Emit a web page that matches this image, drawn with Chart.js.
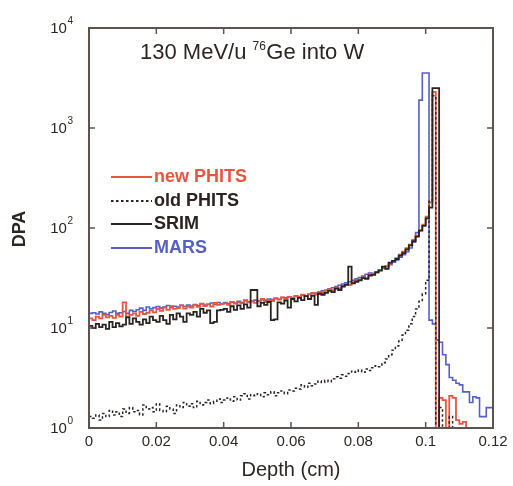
<!DOCTYPE html>
<html><head><meta charset="utf-8">
<script src="https://cdn.jsdelivr.net/npm/chart.js@4.4.1/dist/chart.umd.min.js"></script>
<style>html,body{margin:0;padding:0;background:#fff}#wrap{width:513px;height:486px}</style>
</head><body><div id="wrap"><canvas id="c" width="513" height="486"></canvas></div>
<script>
// Bin width of the depth histogram (cm); bins start at depth 0
const binWidthCm = 0.001;
const xTickLabels = ['0','0.02','0.04','0.06','0.08','0.1','0.12'];
const yTickDecades = [1, 10, 100, 1000, 10000];

const newPHITS = [
 12.5,12,13,12.5,13.5,12.8,13.2,12.6,13.5,13,
 18,13,13.5,14,13.2,14.5,13.8,14.2,15,14.3,
 15.5,14.8,16,15.2,16.5,15.5,15.8,16.8,15.6,16.4,
 16,17,16.3,17.5,16.6,17.2,16.4,17.8,17,17.4,
 17.6,17,18.2,17.5,18,17.6,19,18,18.5,17.8,
 18.5,19.5,18.2,19,18.6,19.8,19.2,20.2,19.5,20.5,
 20,21,20.4,21.5,20.8,21.8,22.5,21.6,23,22.4,
 23.5,24.5,23.8,25.5,25,26.5,27.5,27,28.5,29.5,
 30.5,32,31.5,34,35,36,38,40,41.5,44,
 47,50,54,58,63,68,76,84,95,108,
 130,180,2300,0.5,2.0,1.9,0.5,2.1,2.0,1.2,
 1.1,1.15,0.5,0.5,0.5,0.5,0.5,0.5,0.5,0.5
];
const oldPHITS = [
 1.3,1.25,1.35,1.2,1.4,1.3,1.5,1.35,1.45,1.3,
 1.55,1.4,1.6,1.45,1.5,1.35,1.7,1.55,1.6,1.45,
 1.75,1.5,1.45,1.65,1.55,1.4,1.7,1.6,1.8,1.65,
 1.75,1.6,1.85,1.7,1.8,1.9,1.75,1.85,1.95,1.8,
 1.9,2.0,1.85,2.05,1.9,2.1,2.2,1.95,2.15,2.1,
 2.2,2.05,2.25,2.15,2.3,2.1,2.25,2.35,2.2,2.4,
 2.35,2.5,2.45,2.7,2.55,2.8,2.65,2.75,2.95,2.85,
 3.0,2.9,3.1,3.25,3.15,3.4,3.3,3.5,3.7,3.6,
 3.8,3.6,3.9,3.75,4.0,4.2,4.1,4.5,4.9,5.4,
 6.0,6.6,7.4,8.5,9.5,11,13,15.5,18.5,22,
 30,190,2100,0.5,1.6,0.5,0.5,1.3,0.5,0.5,
 0.5,0.5,0.5,0.5,0.5,0.5,0.5,0.5,0.5,0.5
];
const SRIM = [
 10.5,10,11,10.2,10.8,9.8,11.5,10.2,11.2,10.4,
 10.8,12.8,11,12.5,11.5,10.8,12.2,11.2,13,12,
 11.5,13.2,12,11,13.5,12.2,14,13,11.5,14,
 13.5,14.5,13,15.5,14.2,15,11.2,11.5,15,15.2,
 15.5,14.5,16.5,15.2,16.8,15.5,17.2,16,24,24,
 16.5,17.8,17,18.2,12,12.2,18,17.5,18.8,16,
 19.5,18.5,20,19,20.8,19.5,21,17,22,21.5,
 22.5,23.5,22.8,24.8,24,26,27,41,28,29,
 30,31.5,31,33.5,34,36,37.5,41,39,45,
 47,49,53,56,61,67,74,82,94,105,
 125,160,2500,2500,0.01,0.01,0.01,0.01,0.01,0.01,
 0.01,0.01,0.01,0.01,0.01,0.01,0.01,0.01,0.01,0.01
];
const MARS = [
 14,14.2,13.8,14.5,14,13.6,14.3,14.8,14,14.2,
 14.6,14,15,14.6,15.2,15.8,15,16.2,15.6,16,
 16.4,15.8,16.2,16.8,16,16.5,16.2,16.9,16.4,17,
 16.6,17.2,16.8,17.5,17,17.3,17.8,17.2,18,17.5,
 18,17.6,18.3,17.8,18.5,18,18.8,18.3,18.6,19,
 18.6,19.2,19,19.5,19.2,19.8,19.4,20.2,20,20.5,
 20.2,20.8,20.5,21.2,21,21.6,22,22.4,22.8,23.5,
 24,24.6,25.3,26,26.8,27.5,28.3,29,30,31,
 32,33,34.5,35.5,35,36.5,38,39.5,41,43,
 45.5,48,51,54,58,63,72,90,1900,3550,
 3550,12,11,7.6,7.2,5.4,4.3,3.2,3.0,2.8,
 2.7,2.3,2.3,1.8,2.05,2.0,1.3,1.3,1.6,1.6
];

function toSteps(vals){
  const pts = vals.map((v,i)=>({x: i*binWidthCm, y: v}));
  pts.push({x: vals.length*binWidthCm, y: vals[vals.length-1]});
  return pts;
}

const FONT = "'Liberation Sans', Arial, Helvetica, sans-serif";
const TXT = '#2e2624';
const RED = '#e8553f', BLUE = '#5660c4', BLK = '#2b2322';

const legendItems = [
  {label:'new PHITS', color:RED, text:RED, dash:[]},
  {label:'old PHITS', color:BLK, text:BLK, dash:[2.5,2.5]},
  {label:'SRIM', color:BLK, text:BLK, dash:[]},
  {label:'MARS', color:BLUE, text:BLUE, dash:[]}
];

const decor = {
  id:'decor',
  afterDatasetsDraw(chart){
    const {ctx, chartArea:a, scales:{x, y}} = chart;
    ctx.save();
    // frame
    ctx.strokeStyle = '#5d5350'; ctx.lineWidth = 2;
    ctx.strokeRect(a.left, a.top, a.right-a.left, a.bottom-a.top);
    ctx.lineWidth = 1.5;
    x.ticks.forEach(t=>{
      const px = x.getPixelForValue(t.value);
      ctx.beginPath();
      ctx.moveTo(px, a.bottom); ctx.lineTo(px, a.bottom-6);
      ctx.moveTo(px, a.top); ctx.lineTo(px, a.top+6);
      ctx.stroke();
    });
    y.ticks.forEach(t=>{
      const py = y.getPixelForValue(t.value);
      ctx.beginPath();
      ctx.moveTo(a.left, py); ctx.lineTo(a.left+6, py);
      ctx.moveTo(a.right, py); ctx.lineTo(a.right-6, py);
      ctx.stroke();
    });
    // y tick labels 10^n
    ctx.fillStyle = TXT;
    ctx.textBaseline = 'middle'; ctx.textAlign = 'left';
    y.ticks.forEach(t=>{
      const py = y.getPixelForValue(t.value);
      const e = String(Math.round(Math.log10(t.value)));
      ctx.font = '15px ' + FONT;
      const w10 = ctx.measureText('10').width;
      ctx.font = '10px ' + FONT;
      const we = ctx.measureText(e).width;
      const right = 73;
      ctx.fillText(e, right - we, py - 7);
      ctx.font = '15px ' + FONT;
      ctx.fillText('10', right - we - w10 - 0.5, py + 1);
    });
    // axis titles
    ctx.font = '20px ' + FONT;
    ctx.textAlign = 'center';
    ctx.fillText('Depth (cm)', 291, 470);
    ctx.save();
    ctx.translate(20, 229); ctx.rotate(-Math.PI/2);
    ctx.font = 'bold 18px ' + FONT;
    ctx.fillText('DPA', 0, 0);
    ctx.restore();
    // annotation title
    ctx.textAlign = 'left'; ctx.textBaseline = 'alphabetic';
    let tx = 140; const ty = 59;
    ctx.font = '22px ' + FONT;
    ctx.fillText('130 MeV/u ', tx, ty); tx += ctx.measureText('130 MeV/u ').width;
    ctx.font = '12px ' + FONT;
    ctx.fillText('76', tx, ty - 9); tx += ctx.measureText('76').width + 0.5;
    ctx.font = '22px ' + FONT;
    ctx.fillText('Ge into W', tx, ty);
    // legend
    const rows = [177, 201, 224, 248];
    legendItems.forEach((it, i)=>{
      const ry = rows[i];
      ctx.strokeStyle = it.color; ctx.lineWidth = 1.8;
      ctx.setLineDash(it.dash);
      ctx.beginPath(); ctx.moveTo(111, ry); ctx.lineTo(152, ry); ctx.stroke();
      ctx.setLineDash([]);
      ctx.fillStyle = it.text;
      ctx.font = 'bold 18px ' + FONT;
      ctx.textBaseline = 'middle';
      ctx.fillText(it.label, 154, ry);
    });
    ctx.restore();
  }
};

const ds = (label, vals, color, width, dash, order) => ({
  label, data: toSteps(vals), borderColor: color, backgroundColor: color,
  borderWidth: width, borderDash: dash, pointRadius: 0, stepped: true,
  tension: 0, fill: false, order
});

new Chart(document.getElementById('c'), {
  type: 'line',
  data: { datasets: [
    ds('SRIM', SRIM, BLK, 1.8, [], 0),
    ds('old PHITS', oldPHITS, BLK, 1.5, [2.5,2.5], 1),
    ds('new PHITS', newPHITS, RED, 1.8, [], 2),
    ds('MARS', MARS, BLUE, 1.6, [], 3)
  ]},
  options: {
    responsive: false, animation: false, devicePixelRatio: 1,
    layout: { padding: { top: 28, right: 20, bottom: 0, left: 0 } },
    plugins: { legend: { display: false }, tooltip: { enabled: false }, title: { display: false } },
    scales: {
      x: {
        type: 'linear', min: 0, max: 0.12,
        afterBuildTicks: s => { s.ticks = xTickLabels.map(l => ({ value: parseFloat(l) })); },
        afterFit: s => { s.height = 58; },
        grid: { display: false, drawTicks: false },
        border: { display: false },
        ticks: {
          padding: 5, color: TXT, font: { family: FONT, size: 15 },
          maxRotation: 0, autoSkip: false,
          callback: (v, i) => xTickLabels[i]
        }
      },
      y: {
        type: 'logarithmic', min: 1, max: 10000,
        afterBuildTicks: s => { s.ticks = yTickDecades.map(v => ({ value: v })); },
        afterFit: s => { s.width = 89; },
        grid: { display: false, drawTicks: false },
        border: { display: false },
        ticks: { display: false }
      }
    }
  },
  plugins: [decor]
});
</script></body></html>
